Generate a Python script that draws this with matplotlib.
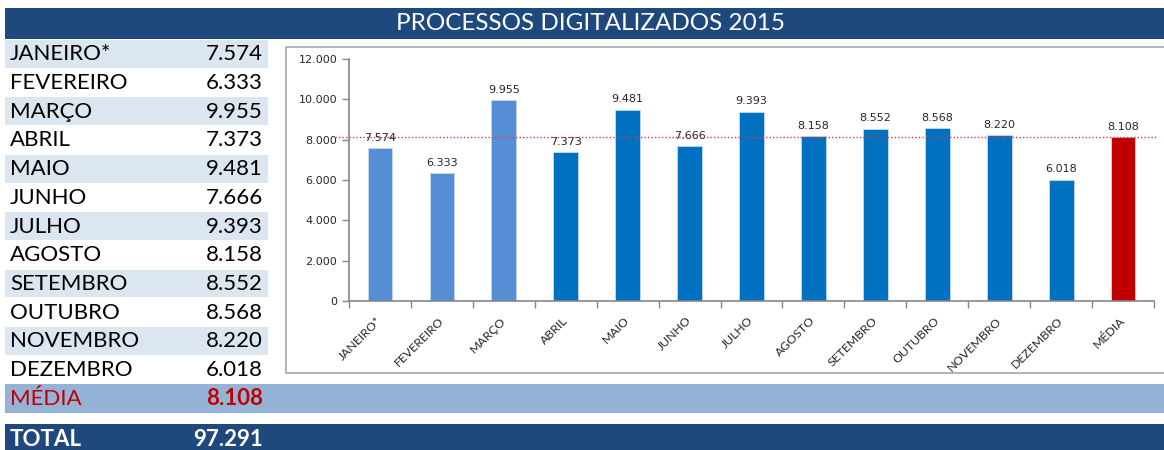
import matplotlib.pyplot as plt
from matplotlib.patches import Rectangle

# data
meses = ["JANEIRO*", "FEVEREIRO", "MARÇO", "ABRIL", "MAIO", "JUNHO", "JULHO",
         "AGOSTO", "SETEMBRO", "OUTUBRO", "NOVEMBRO", "DEZEMBRO"]
processos = [7574, 6333, 9955, 7373, 9481, 7666, 9393,
             8158, 8552, 8568, 8220, 6018]
media = 8108
total = 97291
titulo = "PROCESSOS DIGITALIZADOS 2015"
y_ticks = [0, 2000, 4000, 6000, 8000, 10000, 12000]

dark_blue = "#1F497D"
light_row = "#DCE6F1"
media_band = "#95B3D7"
red = "#C00000"
bar_light = "#558ED5"
bar_blue = "#0070C0"


def fmt(v):
    return f"{v:,}".replace(",", ".")


W, H = 1164, 450
fig = plt.figure(figsize=(W / 100, H / 100), dpi=100)

# background layer in pixel coordinates
bg = fig.add_axes([0, 0, 1, 1])
bg.set_xlim(0, W)
bg.set_ylim(H, 0)
bg.axis("off")

font = "Lato"
fs = 16
row_h = 28.7
top = 40

# title bar
bg.add_patch(Rectangle((5, 8), W - 5, 31, color=dark_blue, lw=0))
bg.text(591, 24, titulo, color="white", fontsize=17.5, family=font,
        ha="center", va="center")

# month rows
for i, (m, v) in enumerate(zip(meses, processos)):
    y0 = top + i * row_h
    if i % 2 == 0:
        bg.add_patch(Rectangle((5, y0), 263, row_h - 1, color=light_row, lw=0))
    bg.text(10, y0 + row_h / 2, m, fontsize=fs, family=font, color="black",
            ha="left", va="center")
    bg.text(263, y0 + row_h / 2, fmt(v), fontsize=fs, family=font,
            color="black", ha="right", va="center")

# media row
y0 = top + len(meses) * row_h
bg.add_patch(Rectangle((5, y0), W - 5, row_h, color=media_band, lw=0))
bg.text(10, y0 + row_h / 2, "MÉDIA", fontsize=fs, family=font, color=red,
        ha="left", va="center")
bg.text(263, y0 + row_h / 2, fmt(media), fontsize=fs, family=font,
        color=red, ha="right", va="center", weight="bold")

# total row
bg.add_patch(Rectangle((5, 424), W - 5, 30, color=dark_blue, lw=0))
bg.text(10, 439, "TOTAL", fontsize=fs, family=font, color="white",
        ha="left", va="center", weight="bold")
bg.text(263, 439, fmt(total), fontsize=fs, family=font, color="white",
        ha="right", va="center", weight="bold")

# chart frame
bg.add_patch(Rectangle((285.5, 46.5), W, 326.5, facecolor="white",
                       edgecolor="#A6A6A6", lw=1.2))

# chart
ax = fig.add_axes([349 / W, 1 - 301 / H, 805 / W, 242 / H])
cats = meses + ["MÉDIA"]
vals = processos + [media]
colors = [bar_light] * 3 + [bar_blue] * 9 + [red]
x = list(range(len(cats)))
ax.bar(x, vals, width=0.4, color=colors, edgecolor="#C6D9F1",
       linewidth=0.6, zorder=2)
for xi, v in zip(x, vals):
    ax.annotate(fmt(v), (xi, v), xytext=(0, 4), textcoords="offset points",
                ha="center", va="bottom", fontsize=8, color="#262626")

ax.axhline(media, xmin=-0.018, xmax=1.004, color="#E03C3C", lw=1.0,
           ls=(0, (1, 1.5)), clip_on=False, zorder=3)

ax.set_xlim(-0.5, len(cats) - 0.5)
ax.set_ylim(0, 12000)
ax.set_yticks(y_ticks)
ax.set_yticklabels([fmt(t) for t in y_ticks], fontsize=8, color="#262626")
ax.set_xticks([xi - 0.5 for xi in x] + [len(cats) - 0.5])
ax.set_xticklabels([])
ax.tick_params(axis="both", direction="out", length=5, color="#868686",
               width=1)
for xi, c in zip(x, cats):
    ax.annotate(c, (xi, 0), xytext=(3, -10), textcoords="offset points",
                ha="right", va="top", rotation=45, fontsize=8.8, family=font,
                color="#262626", annotation_clip=False)

for s in ["top", "right"]:
    ax.spines[s].set_visible(False)
for s in ["left", "bottom"]:
    ax.spines[s].set_color("#868686")
    ax.spines[s].set_linewidth(1.2)

fig.savefig("out.png", dpi=100)
